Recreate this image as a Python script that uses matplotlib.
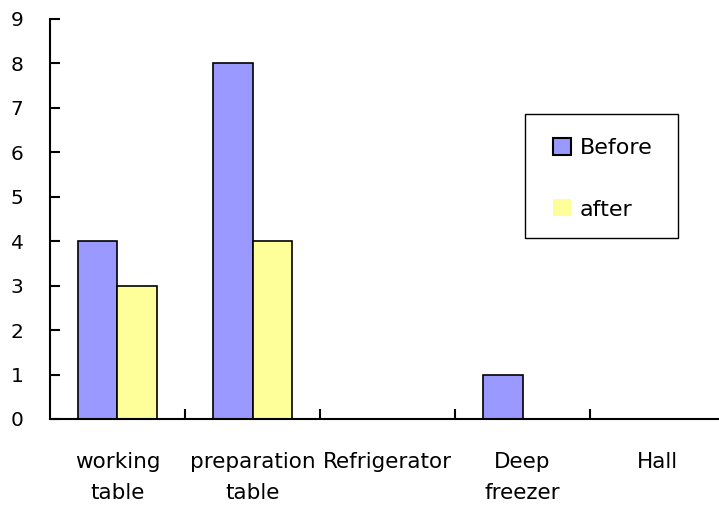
import matplotlib
matplotlib.use("Agg")
import matplotlib.pyplot as plt
from matplotlib.patches import Patch, Rectangle
import numpy as np

categories = ["working\ntable", "preparation\ntable", "Refrigerator", "Deep\nfreezer", "Hall"]
before = [4, 8, 0, 1, 0]
after = [3, 4, 0, 0, 0]
yticks = list(range(10))

plt.rcParams['font.family'] = ['DejaVu Sans']

fig = plt.figure(figsize=(7.19, 5.07), dpi=100)
ax = fig.add_axes([0.0695, 0.1736, 0.939, 0.789])

x = np.arange(len(categories))
w = 0.29
ax.bar(x - w / 2, before, w, color="#9999ff", edgecolor="black", linewidth=1.2)
ax.bar(x + w / 2, after, w, color="#ffff99", edgecolor="black", linewidth=1.2)

ax.set_xlim(-0.5, len(categories) - 0.5)
ax.set_ylim(0, 9)
ax.set_yticks(yticks)

# boundary ticks between groups, labels sit at the group centres
ax.set_xticks(x[:-1] + 0.5)
ax.set_xticklabels([])
ax.set_xticks(x, minor=True)
ax.set_xticklabels(categories, minor=True, fontsize=15.5, linespacing=1.65)
ax.tick_params(axis="x", which="major", direction="in", length=7, width=1.5)
ax.tick_params(axis="x", which="minor", length=0, pad=24)
ax.tick_params(axis="y", direction="in", length=7, width=1.5, labelsize=14.5, pad=19)

for s in ("top", "right"):
    ax.spines[s].set_visible(False)
for s in ("left", "bottom"):
    ax.spines[s].set_linewidth(1.5)

# legend frame drawn separately so its size can be fixed
fig.patches.append(Rectangle((525 / 719, 1 - 238 / 507), 153 / 719, 124 / 507,
                             transform=fig.transFigure, facecolor="white",
                             edgecolor="black", linewidth=1.0, zorder=3))
handles = [Patch(facecolor="#9999ff", edgecolor="black", linewidth=1.5),
           Patch(facecolor="#ffff99", edgecolor="none")]
leg = fig.legend(handles, ["Before", "after"], loc="upper left",
                 bbox_to_anchor=(553 / 719, 1 - 138 / 507),
                 fontsize=16, frameon=False, borderpad=0,
                 labelspacing=1.85, handlelength=0.8, handleheight=0.8,
                 handletextpad=0.4, borderaxespad=0)
leg.set_zorder(4)

fig.savefig("out.png", dpi=100)
